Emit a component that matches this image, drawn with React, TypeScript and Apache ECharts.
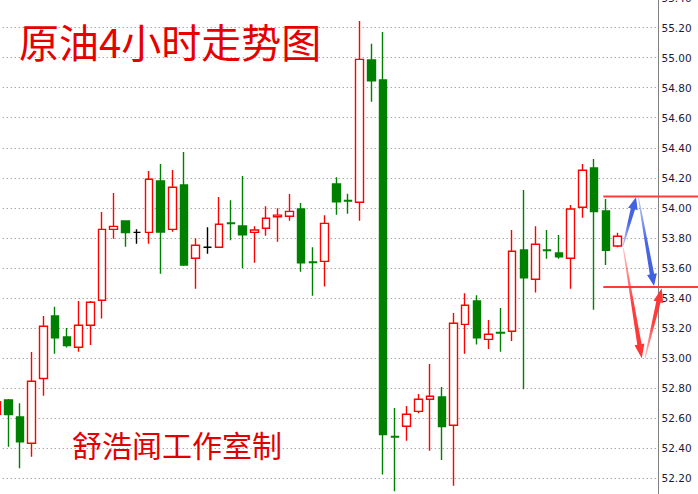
import React, { useEffect, useRef } from "react";
import * as echarts from "echarts";

// ---- data ----
const titleText = "原油4小时走势图";
const studioText = "舒浩闻工作室制";

const yMin = 52.0;
const yMax = 55.4;
const yStep = 0.2;

const opens = [
  52.627, 52.722, 52.609, 52.434, 52.864, 53.281, 53.141, 53.072, 53.219, 53.385,
  53.857, 53.913, 53.837, 53.837, 54.179, 53.857, 54.152, 53.665, 53.738, 53.738,
  53.899, 53.879, 53.837, 53.864, 53.941, 53.944, 53.992, 53.640, 53.644, 54.159,
  54.050, 54.037, 54.984, 54.851, 52.479, 52.547, 52.646, 52.726, 52.742, 52.553,
  53.225, 53.380, 53.125, 53.171, 53.179, 53.720, 53.525, 53.720, 53.700, 53.665,
  54.004, 54.265, 53.979, 53.746,
];
const closes = [
  52.710, 52.624, 52.444, 52.846, 53.212, 53.136, 53.083, 53.219, 53.372, 53.857,
  53.877, 53.835, 53.837, 54.190, 53.839, 54.137, 53.620, 53.751, 53.738, 53.891,
  53.895, 53.821, 53.853, 53.931, 53.952, 53.977, 53.635, 53.636, 53.897, 54.041,
  54.046, 54.988, 54.846, 52.491, 52.475, 52.627, 52.726, 52.746, 52.544, 53.232,
  53.352, 53.136, 53.159, 53.167, 53.711, 53.535, 53.758, 53.716, 53.675, 53.992,
  54.250, 53.975, 53.718, 53.811,
];
const lows = [
  52.600, 52.411, 52.267, 52.344, 52.750, 53.030, 53.070, 53.043, 53.088, 53.263,
  53.795, 53.742, 53.762, 53.762, 53.562, 53.841, 53.613, 53.462, 53.695, 53.735,
  53.784, 53.598, 53.635, 53.815, 53.775, 53.914, 53.575, 53.416, 53.476, 53.955,
  53.961, 53.915, 54.706, 52.225, 52.114, 52.451, 52.633, 52.384, 52.322, 52.151,
  53.030, 53.090, 53.061, 53.043, 53.114, 52.793, 53.436, 53.662, 53.662, 53.462,
  53.935, 53.322, 53.620, 53.738,
];
const highs = [
  52.740, 52.728, 52.700, 53.041, 53.281, 53.342, 53.201, 53.380, 53.380, 53.972,
  54.099, 53.915, 53.857, 54.245, 54.292, 54.252, 54.372, 53.798, 53.871, 54.072,
  54.050, 54.212, 53.877, 54.010, 53.997, 54.092, 54.032, 53.738, 53.951, 54.203,
  54.094, 55.243, 55.092, 55.170, 52.668, 52.682, 52.761, 52.961, 52.808, 53.301,
  53.432, 53.418, 53.254, 53.334, 53.853, 54.119, 53.877, 53.853, 53.820, 54.019,
  54.292, 54.325, 54.059, 53.835,
];
const emptySlots = 3;
const categories = Array.from({ length: opens.length + emptySlots }, (_, i) => `K${i + 1}`);

// drawn levels and arrows: [category position, price]
const levelLines = [54.075, 53.474];
const blueArrows = [
  [[53.45, 53.742], [54.58, 54.07]],
  [[54.78, 54.07], [56.12, 53.48]],
];
const redArrows = [
  [[53.5, 53.731], [55.07, 53.0]],
  [[55.35, 53.0], [56.77, 53.465]],
];

function arrowPoints(s: number[], t: number[], headLen: number, headHalf: number) {
  const dx = t[0] - s[0];
  const dy = t[1] - s[1];
  const len = Math.sqrt(dx * dx + dy * dy) || 1;
  const ux = dx / len;
  const uy = dy / len;
  const nx = -uy;
  const ny = ux;
  const bx = t[0] - ux * headLen;
  const by = t[1] - uy * headLen;
  return [
    [s[0] + nx * 0.5, s[1] + ny * 0.5],
    [bx + nx * 2.2, by + ny * 2.2],
    [bx + nx * headHalf, by + ny * headHalf],
    [t[0], t[1]],
    [bx - nx * headHalf, by - ny * headHalf],
    [bx - nx * 2.2, by - ny * 2.2],
    [s[0] - nx * 0.5, s[1] - ny * 0.5],
  ];
}

export default function App() {
  const ref = useRef<HTMLDivElement>(null);

  useEffect(() => {
    if (!ref.current) return;
    const chart = echarts.init(ref.current, undefined, { renderer: "svg" });
    const candleData: any[] = opens.map((o, i) => [o, closes[i], lows[i], highs[i]]);
    for (let i = 0; i < emptySlots; i++) candleData.push("-");

    chart.setOption({
      animation: false,
      backgroundColor: "#ffffff",
      grid: {
        left: -9.3,
        right: 39.5,
        top: -2.5,
        bottom: -14.4,
        containLabel: false,
        outerBoundsMode: "none",
      },
      xAxis: {
        type: "category",
        data: categories,
        boundaryGap: true,
        axisLine: { show: false },
        axisTick: { show: false },
        axisLabel: { show: false },
        splitLine: { show: false },
      },
      yAxis: {
        type: "value",
        position: "right",
        min: yMin,
        max: yMax,
        interval: yStep,
        scale: true,
        axisLine: { show: true, lineStyle: { color: "#808080", width: 1 } },
        axisTick: { show: false },
        axisLabel: {
          formatter: (v: number) => v.toFixed(2),
          color: "#1a1a40",
          fontFamily: "DejaVu Sans",
          fontSize: 10.5,
          margin: 3,
          verticalAlign: "middle",
          padding: [6, 0, 0, 0],
          showMinLabel: false,
        },
        splitLine: {
          show: true,
          lineStyle: { color: "#808080", width: 1, type: [1, 3] },
        },
      },
      series: [
        {
          type: "candlestick",
          data: candleData,
          barWidth: 8,
          itemStyle: {
            color: "#ffffff",
            color0: "#008000",
            borderColor: "#ff0000",
            borderColor0: "#008000",
            borderColorDoji: "#000000",
            borderWidth: 1.4,
          },
        },
      ],
    });

    const px = (idx: number) => {
      const p0 = chart.convertToPixel({ xAxisIndex: 0 }, 0) as number;
      const p1 = chart.convertToPixel({ xAxisIndex: 0 }, 1) as number;
      return p0 + idx * (p1 - p0);
    };
    const py = (v: number) => chart.convertToPixel({ yAxisIndex: 0 }, v) as number;

    const graphics: any[] = [];
    levelLines.forEach((lv) => {
      const y = py(lv);
      graphics.push({
        type: "line",
        shape: { x1: 603.3, y1: y, x2: 698, y2: y },
        style: { stroke: "#ff3b3b", lineWidth: 2 },
        z: 10,
      });
    });
    const addArrow = (a: number[][], color: string, rgb: string, headLen: number, headHalf: number) => {
      const s = [px(a[0][0]), py(a[0][1])];
      const t = [px(a[1][0]), py(a[1][1])];
      graphics.push({
        type: "polygon",
        shape: { points: arrowPoints(s, t, headLen, headHalf) },
        style: {
          fill: new echarts.graphic.LinearGradient(
            s[0], s[1], t[0], t[1],
            [
              { offset: 0, color: `rgba(${rgb},0.3)` },
              { offset: 0.5, color: `rgba(${rgb},0.95)` },
              { offset: 1, color: color },
            ],
            true
          ),
        },
        z: 11,
      });
    };
    blueArrows.forEach((a) => addArrow(a, "#3f5fe0", "63,95,224", 12, 5));
    redArrows.forEach((a) => addArrow(a, "#ff3434", "255,52,52", 14, 5));

    graphics.push({
      type: "text",
      x: 19,
      y: 41,
      style: {
        text: titleText,
        fill: "#e60000",
        font: "normal 40px 'Noto Sans CJK SC'",
        textVerticalAlign: "middle",
      },
      z: 12,
    });
    graphics.push({
      type: "text",
      x: 72,
      y: 444,
      style: {
        text: studioText,
        fill: "#e00000",
        font: "normal 30px 'Noto Sans CJK SC'",
        textVerticalAlign: "middle",
      },
      z: 12,
    });

    chart.setOption({ graphic: graphics });

    return () => chart.dispose();
  }, []);

  return (
    <div
      ref={ref}
      style={{ position: "fixed", left: 0, top: 0, width: 698, height: 494, background: "#fff" }}
    />
  );
}
